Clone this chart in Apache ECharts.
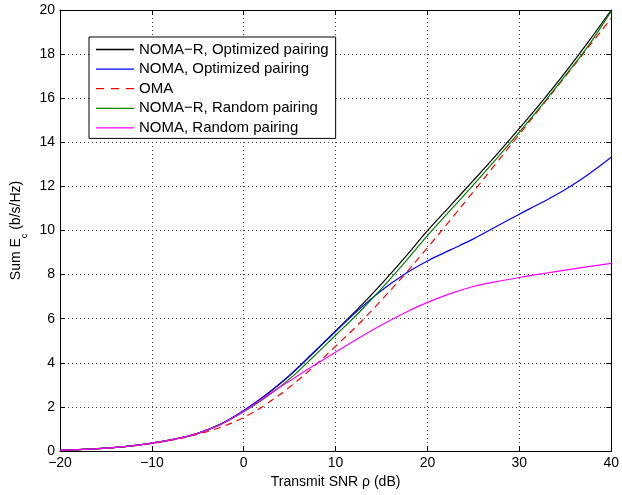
<!DOCTYPE html>
<html>
<head>
<meta charset="utf-8">
<script src="https://cdn.jsdelivr.net/npm/echarts@6/dist/echarts.min.js"></script>
<style>
html,body{margin:0;padding:0;background:#fff;}
#chart{width:622px;height:495px;}
</style>
</head>
<body>
<div id="chart"></div>
<script>
// Transmit SNR (dB)
var snr = [-20,-17.5,-15,-12.5,-10,-7.5,-5,-2.5,0,2.5,5,7.5,10,12.5,15,17.5,20,22.5,25,27.5,30,32.5,35,37.5,40];
// Series values (Sum E_c, b/s/Hz)
var nomaROpt   = [0.03,0.07,0.13,0.22,0.36,0.54,0.80,1.22,1.82,2.56,3.42,4.42,5.45,6.48,7.58,8.76,9.99,11.13,12.27,13.43,14.63,15.87,17.17,18.55,20.00];
var nomaOpt    = [0.03,0.07,0.13,0.22,0.36,0.54,0.80,1.22,1.84,2.58,3.44,4.42,5.42,6.40,7.28,8.02,8.62,9.12,9.62,10.18,10.74,11.28,11.86,12.54,13.32];
var oma        = [0.03,0.07,0.12,0.21,0.34,0.52,0.76,1.08,1.52,2.14,2.90,3.78,4.75,5.75,6.85,8.00,9.22,10.48,11.76,13.06,14.36,15.67,16.98,18.30,19.62];
var nomaRRand  = [0.03,0.07,0.13,0.22,0.36,0.54,0.80,1.21,1.78,2.46,3.27,4.24,5.25,6.26,7.36,8.54,9.77,10.92,12.07,13.25,14.46,15.71,17.02,18.37,19.95];
var nomaRand   = [0.03,0.07,0.13,0.22,0.36,0.54,0.80,1.20,1.80,2.50,3.18,3.84,4.48,5.11,5.71,6.26,6.74,7.14,7.46,7.68,7.87,8.04,8.20,8.36,8.51];
var seriesNames = ['NOMA\u2212R, Optimized pairing','NOMA, Optimized pairing','OMA','NOMA\u2212R, Random pairing','NOMA, Random pairing'];
var xTicks = [-20,-10,0,10,20,30,40];
var yTicks = [0,2,4,6,8,10,12,14,16,18,20];

var FONT = '"Liberation Sans", Arial, Helvetica, sans-serif';
function pairs(v){ return snr.map(function(x,i){ return [x, v[i]]; }); }
function fmt(v){ return v < 0 ? '\u2212' + Math.abs(v) : String(v); }

var colors = ['#000000','#0000ff','#ff0000','#007f00','#ff00ff'];
var values = [nomaROpt, nomaOpt, oma, nomaRRand, nomaRand];
var solidIcon = 'path://M0,0H38V1.3H0Z';
var dashIcon = 'path://M0,0H8V1.3H0Z M15,0H23V1.3H15Z M30,0H38V1.3H30Z';

var series = values.map(function(v,i){
  return {
    name: seriesNames[i], type: 'line', data: pairs(v), smooth: 0.35,
    symbol: 'none', showSymbol: false, animation: false,
    xAxisIndex: 0, yAxisIndex: 0,
    lineStyle: { color: colors[i], width: 1.2, type: i === 2 ? [7,5] : 'solid' },
    itemStyle: { color: colors[i] }
  };
});

var axisCommon = {
  axisLine: { show: true, onZero: false, lineStyle: { color: '#000', width: 1 } },
  axisTick: { show: true, inside: true, length: 5, lineStyle: { color: '#000' } }
};

var chart = echarts.init(document.getElementById('chart'), null, { renderer: 'canvas' });
chart.setOption({
  animation: false,
  backgroundColor: '#fff',
  grid: { left: 60, right: 2, top: 10, bottom: 44, containLabel: false },
  legend: {
    orient: 'vertical', left: 89, top: 37,
    data: seriesNames.map(function(n,i){ return { name: n, icon: i === 2 ? dashIcon : solidIcon, itemStyle: { color: colors[i] } }; }),
    itemWidth: 38, itemHeight: 13, itemGap: 4.6,
    padding: [5, 7, 3, 7],
    borderColor: '#000', borderWidth: 1, backgroundColor: '#fff',
    textStyle: { fontFamily: FONT, fontSize: 15, color: '#000' }
  },
  xAxis: [
    Object.assign({
      type: 'value', min: xTicks[0], max: xTicks[xTicks.length-1], interval: 10,
      name: 'Transmit SNR \u03c1 (dB)', nameLocation: 'middle', nameGap: 22,
      nameTextStyle: { fontFamily: FONT, fontSize: 14, color: '#000' },
      axisLabel: { formatter: fmt, fontFamily: FONT, fontSize: 14, color: '#000', margin: 5 },
      splitLine: { show: true, lineStyle: { type: [1,3], color: '#444', width: 1 } }
    }, axisCommon),
    Object.assign({
      type: 'value', position: 'top', min: xTicks[0], max: xTicks[xTicks.length-1], interval: 10,
      axisLabel: { show: false }, splitLine: { show: false }
    }, axisCommon)
  ],
  yAxis: [
    Object.assign({
      type: 'value', min: yTicks[0], max: yTicks[yTicks.length-1], interval: 2,
      name: '{n|Sum E}{s|c}{n| (b/s/Hz)}', nameLocation: 'middle', nameRotate: 90, nameGap: 29,
      nameTextStyle: {
        rich: {
          n: { fontFamily: FONT, fontSize: 14, color: '#000', lineHeight: 24 },
          s: { fontFamily: FONT, fontSize: 9, color: '#000', lineHeight: 9, verticalAlign: 'bottom' }
        }
      },
      axisLabel: { fontFamily: FONT, fontSize: 14, color: '#000', margin: 5 },
      splitLine: { show: true, lineStyle: { type: [1,3], color: '#444', width: 1 } }
    }, axisCommon),
    Object.assign({
      type: 'value', position: 'right', min: yTicks[0], max: yTicks[yTicks.length-1], interval: 2,
      axisLabel: { show: false }, splitLine: { show: false }
    }, axisCommon)
  ],
  series: series
});
</script>
</body>
</html>
